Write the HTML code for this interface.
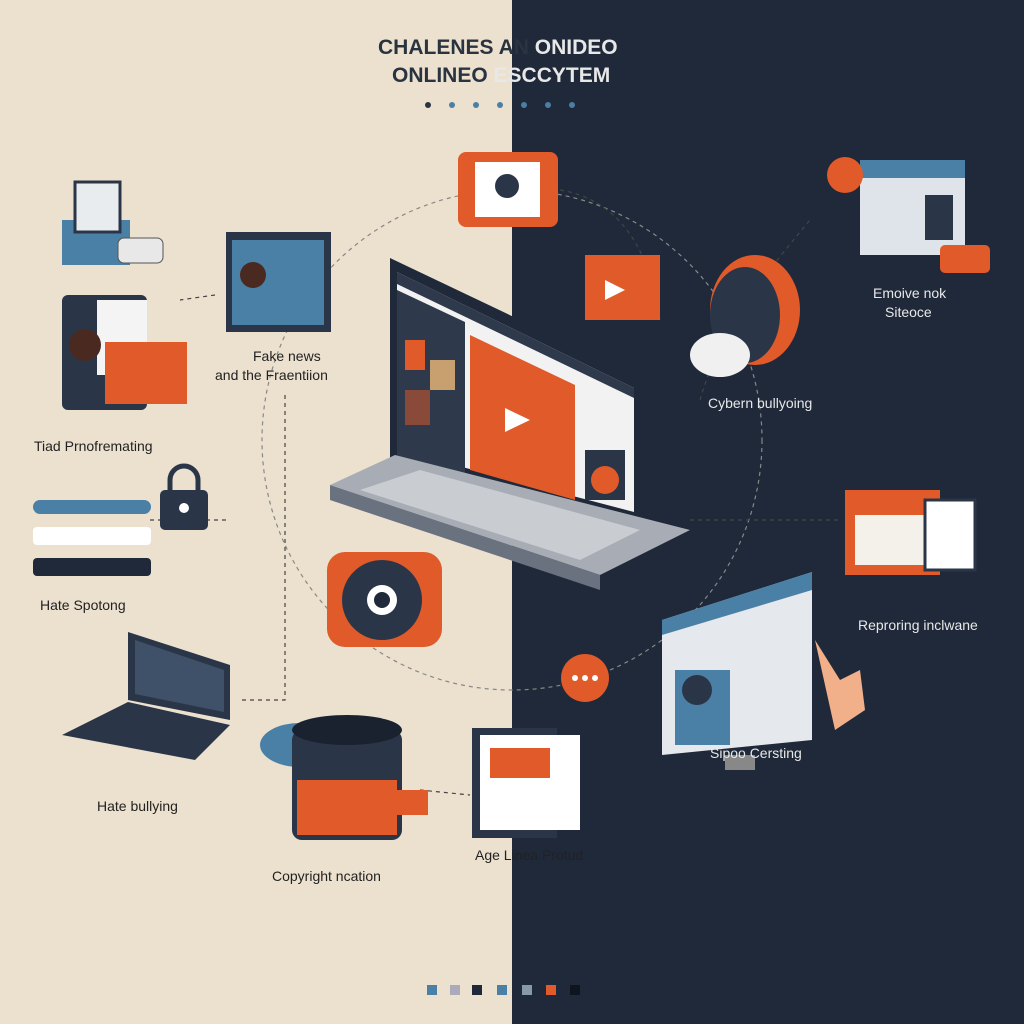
<!DOCTYPE html>
<html><head><meta charset="utf-8"><style>
body{margin:0;width:1024px;height:1024px;overflow:hidden;position:relative;font-family:"Liberation Sans",sans-serif;}
.l{position:absolute;left:0;top:0;width:512px;height:1024px;background:#ece1cf}
.r{position:absolute;left:512px;top:0;width:512px;height:1024px;background:#1f2939}
.t{position:absolute;font-size:14px;color:#222}
.tw{position:absolute;font-size:14px;color:#e8e8e8}
</style></head><body>
<div class="l"></div><div class="r"></div>
<svg width="1024" height="1024" style="position:absolute;left:0;top:0">
<text x="378" y="54" font-size="21" font-weight="bold" fill="#2a3340" font-family="Liberation Sans">CHALENES AN <tspan fill="#e8e8e8">ONIDEO</tspan></text>
<text x="392" y="82" font-size="21" font-weight="bold" fill="#2a3340" font-family="Liberation Sans">ONLINEO <tspan fill="#e8e8e8">ESCCYTEM</tspan></text>
<g fill="#4a7fa6"><circle cx="428" cy="105" r="3" fill="#2a3340"/><circle cx="452" cy="105" r="3"/><circle cx="476" cy="105" r="3"/><circle cx="500" cy="105" r="3"/><circle cx="524" cy="105" r="3"/><circle cx="548" cy="105" r="3"/><circle cx="572" cy="105" r="3"/></g>
<g fill="none" stroke="#444" stroke-dasharray="4 4" stroke-width="1.2">
<circle cx="512" cy="440" r="250" stroke="#888"/>
<path d="M150 520 H230"/><path d="M215 295 L180 300"/><path d="M285 395 V700 L240 700"/>
<path d="M560 190 C620 200 650 250 660 320"/><path d="M700 400 C720 330 760 280 810 220"/>
<path d="M690 520 H840"/><path d="M420 790 L470 795"/>
</g>
<!-- laptop -->
<polygon points="390,258 642,378 642,522 390,458" fill="#1f2939"/>
<polygon points="397,272 634,388 634,512 397,450" fill="#f2f2f2"/>
<polygon points="397,272 634,388 634,398 397,284" fill="#2e3a4c"/>
<polygon points="470,335 575,385 575,500 470,470" fill="#e05a2a"/>
<polygon points="505,408 530,420 505,432" fill="#fff"/>
<polygon points="397,290 465,322 465,480 397,458" fill="#2e3a4c"/>
<rect x="405" y="340" width="20" height="30" fill="#e05a2a"/><rect x="430" y="360" width="25" height="30" fill="#c8a070"/><rect x="405" y="390" width="25" height="35" fill="#8a4a3a"/>
<rect x="585" y="450" width="40" height="50" fill="#2a3648"/><circle cx="605" cy="480" r="14" fill="#e05a2a"/>
<polygon points="330,485 395,455 690,530 600,575" fill="#a8adb5"/>
<polygon points="330,485 600,575 600,590 330,500" fill="#6a7280"/>
<polygon points="360,490 420,470 640,530 580,560" fill="#c9ccd1"/>
<!-- camera center -->
<rect x="327" y="552" width="115" height="95" rx="18" fill="#e05a2a"/>
<circle cx="382" cy="600" r="40" fill="#2a3648"/><circle cx="382" cy="600" r="15" fill="#fff"/><circle cx="382" cy="600" r="8" fill="#1f2939"/>
<circle cx="585" cy="678" r="24" fill="#e05a2a"/><g fill="#fff"><circle cx="575" cy="678" r="3"/><circle cx="585" cy="678" r="3"/><circle cx="595" cy="678" r="3"/></g>
<!-- top chat -->
<rect x="458" y="152" width="100" height="75" rx="8" fill="#e05a2a"/><rect x="475" y="162" width="65" height="55" fill="#fff"/><circle cx="507" cy="186" r="12" fill="#2a3648"/>
<rect x="585" y="255" width="75" height="65" fill="#e05a2a"/><polygon points="605,280 625,290 605,300" fill="#fff"/>
<!-- top-right -->
<rect x="860" y="160" width="105" height="95" fill="#dfe4ea"/><rect x="860" y="160" width="105" height="18" fill="#4a7fa6"/>
<rect x="925" y="195" width="28" height="45" fill="#2a3648"/><circle cx="845" cy="175" r="18" fill="#e05a2a"/>
<rect x="940" y="245" width="50" height="28" rx="5" fill="#e05a2a"/>
<ellipse cx="755" cy="310" rx="45" ry="55" fill="#e05a2a"/><ellipse cx="745" cy="315" rx="35" ry="48" fill="#2a3648"/><ellipse cx="720" cy="355" rx="30" ry="22" fill="#f0f0f0"/>
<!-- right middle -->
<rect x="845" y="490" width="95" height="85" fill="#e05a2a"/><rect x="855" y="515" width="75" height="50" fill="#f4f0ea"/>
<rect x="925" y="500" width="50" height="70" fill="#fff" stroke="#2a3648" stroke-width="3"/>
<polygon points="662,620 812,572 812,740 662,755" fill="#e5e8ec"/><polygon points="662,620 812,572 812,590 662,635" fill="#4a7fa6"/>
<rect x="675" y="670" width="55" height="75" fill="#4a7fa6"/><circle cx="697" cy="690" r="15" fill="#2a3648"/>
<rect x="725" y="755" width="30" height="15" fill="#888"/>
<path d="M815 640 l25 40 l20 -10 l5 40 l-30 20 z" fill="#f2b08a"/>
<!-- left -->
<rect x="62" y="220" width="68" height="45" fill="#4a7fa6"/><rect x="75" y="182" width="45" height="50" fill="#e8ecef" stroke="#2a3648" stroke-width="3"/>
<rect x="118" y="238" width="45" height="25" rx="6" fill="#e8e8e8" stroke="#555"/>
<rect x="62" y="295" width="85" height="115" rx="6" fill="#2a3648"/><rect x="97" y="300" width="50" height="75" fill="#f4f4f4"/>
<rect x="105" y="342" width="82" height="62" fill="#e05a2a"/><circle cx="85" cy="345" r="16" fill="#4a2a20"/>
<rect x="226" y="232" width="105" height="100" fill="#2a3648"/><rect x="232" y="240" width="92" height="85" fill="#4a7fa6"/><circle cx="253" cy="275" r="13" fill="#4a2a20"/>
<rect x="33" y="500" width="118" height="14" rx="7" fill="#4a7fa6"/><rect x="33" y="527" width="118" height="18" rx="4" fill="#fff"/><rect x="33" y="558" width="118" height="18" rx="4" fill="#1f2939"/>
<rect x="160" y="490" width="48" height="40" rx="5" fill="#2a3648"/><path d="M170 490 v-10 a14 14 0 0 1 28 0 v10" fill="none" stroke="#2a3648" stroke-width="5"/><circle cx="184" cy="508" r="5" fill="#fff"/>
<polygon points="128,632 230,665 230,720 128,700" fill="#2a3648"/><polygon points="135,640 224,670 224,712 135,694" fill="#3f5168"/>
<polygon points="62,735 128,702 230,725 195,760" fill="#2a3648"/>
<ellipse cx="300" cy="745" rx="40" ry="22" fill="#4a7fa6"/><rect x="292" y="730" width="110" height="110" rx="10" fill="#2a3648"/><ellipse cx="347" cy="730" rx="55" ry="15" fill="#1a2230"/><rect x="297" y="780" width="100" height="55" fill="#e05a2a"/>
<rect x="472" y="728" width="85" height="110" fill="#2a3648"/><rect x="480" y="735" width="100" height="95" fill="#fff"/><rect x="490" y="748" width="60" height="30" fill="#e05a2a"/>
<rect x="388" y="790" width="40" height="25" fill="#e05a2a"/>
<g><rect x="427" y="985" width="10" height="10" fill="#4a7fa6"/><rect x="450" y="985" width="10" height="10" fill="#aab"/><rect x="472" y="985" width="10" height="10" fill="#1f2939"/><rect x="497" y="985" width="10" height="10" fill="#4a7fa6"/><rect x="522" y="985" width="10" height="10" fill="#8899aa"/><rect x="546" y="985" width="10" height="10" fill="#e05a2a"/><rect x="570" y="985" width="10" height="10" fill="#0e1520"/></g>
</svg>
<div class="t" style="left:253px;top:348px">Fake news</div>
<div class="t" style="left:215px;top:367px">and the Fraentiion</div>
<div class="t" style="left:34px;top:438px">Tiad Prnofremating</div>
<div class="t" style="left:40px;top:597px">Hate Spotong</div>
<div class="t" style="left:97px;top:798px">Hate bullying</div>
<div class="t" style="left:272px;top:868px">Copyright ncation</div>
<div class="t" style="left:475px;top:847px">Age Linea Protud</div>
<div class="tw" style="left:708px;top:395px">Cybern bullyoing</div>
<div class="tw" style="left:873px;top:285px">Emoive nok</div>
<div class="tw" style="left:885px;top:304px">Siteoce</div>
<div class="tw" style="left:858px;top:617px">Reproring inclwane</div>
<div class="tw" style="left:710px;top:745px">Sipoo Cersting</div>
</body></html>
